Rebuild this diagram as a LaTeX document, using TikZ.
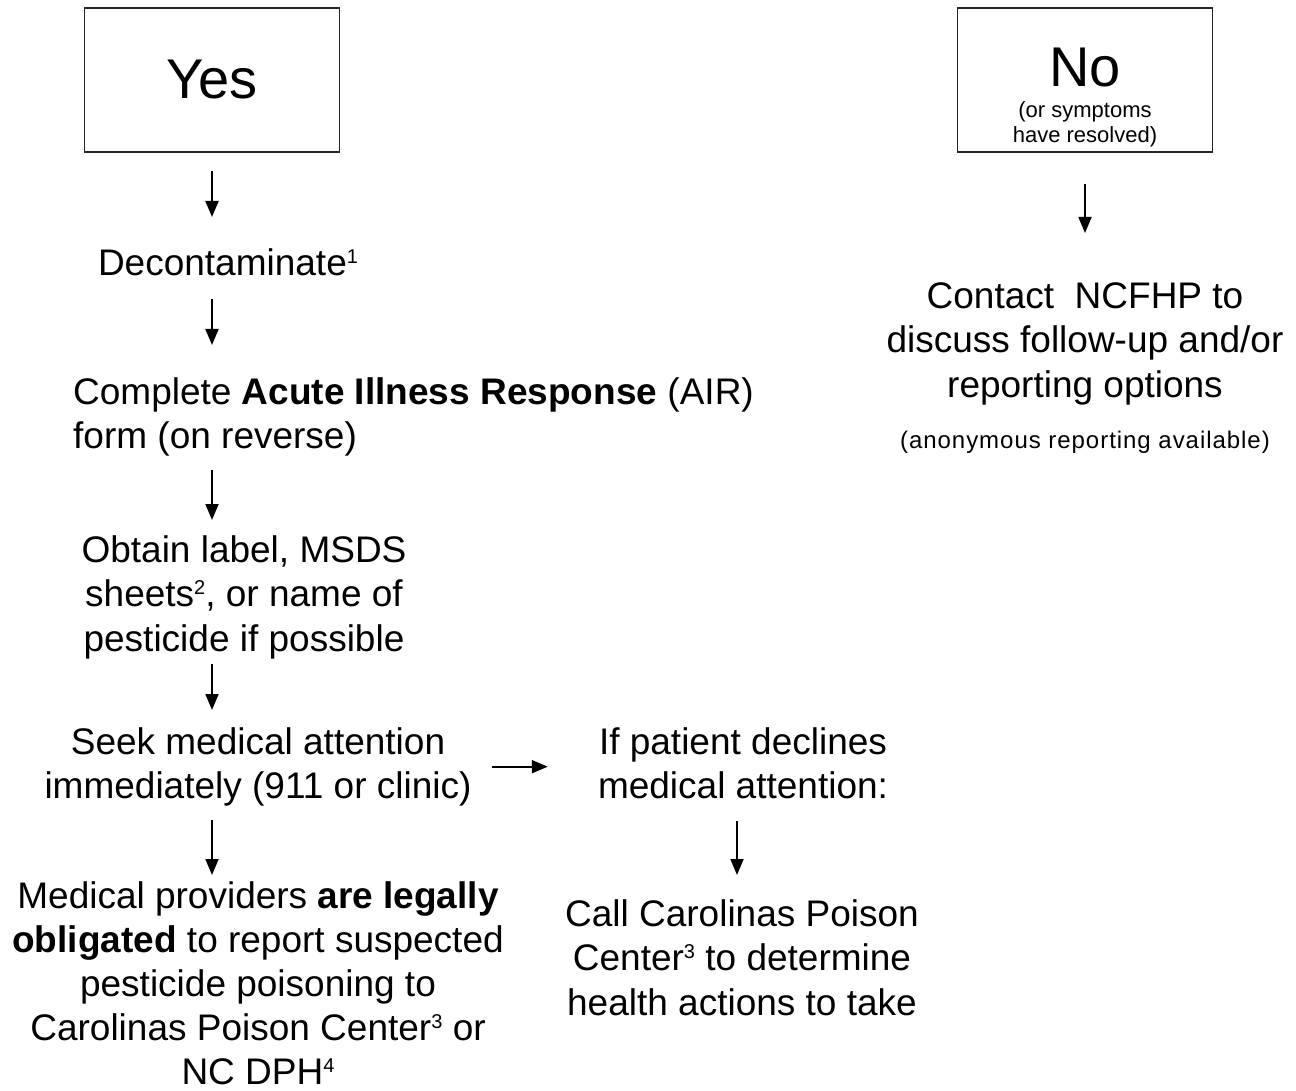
\documentclass[tikz,border=0pt]{standalone}
\usepackage{fontspec}
\setmainfont{Liberation Sans}
\newfontfamily\spacedfont[LetterSpace=4]{Liberation Sans}
\usetikzlibrary{arrows.meta}
\newcommand\mysup[1]{\raisebox{12pt}{\fontsize{20}{20}\selectfont #1}}
\begin{document}
\begin{tikzpicture}[x=1pt,y=-1pt,
  main/.style={inner sep=0pt, font=\fontsize{37}{44.5}\selectfont, align=center},
  small/.style={inner sep=0pt, font=\fontsize{22}{25}\selectfont, align=center},
  box/.style={draw=black!85, line width=1.8pt, minimum width=255pt, minimum height=144pt, inner sep=0pt},
  arr/.style={line width=1.8pt, -{Triangle[length=16pt,width=13pt]}}]
\useasboundingbox[fill=white] (0,0) rectangle (1296,1091);

% Yes branch
\node[box, font=\fontsize{56}{56}\selectfont] (yes) at (212,80) {Yes};
\node[main, anchor=base] (dec) at (228,276) {Decontaminate\mysup{1}};
\node[main, anchor=north west, align=left] (air) at (73,377)
  {Complete \textbf{Acute Illness Response} (AIR)\\form (on reverse)};
\node[main, anchor=north] (obt) at (244,535)
  {Obtain label, MSDS\\sheets\mysup{2}, or name of\\pesticide if possible};
\node[main, anchor=north] (seek) at (258,727)
  {Seek medical attention\\immediately (911 or clinic)};
\node[main, anchor=north, font=\fontsize{37}{44}\selectfont] (med) at (258,881)
  {Medical providers \textbf{are legally}\\\textbf{obligated} to report suspected\\pesticide poisoning to\\Carolinas Poison Center\mysup{3} or\\NC DPH\mysup{4}};
\node[main, anchor=north] (decl) at (743,727)
  {If patient declines\\medical attention:};
\node[main, anchor=north] (call) at (742,899)
  {Call Carolinas Poison\\Center\mysup{3} to determine\\health actions to take};

% No branch
\node[box] (no) at (1085,80) {};
\node[inner sep=0pt, font=\fontsize{56}{56}\selectfont, anchor=base] (notitle) at (1085,87) {No};
\node[small, anchor=north] (nonote) at (1085,101) {(or symptoms\\have resolved)};
\node[main, anchor=north] (contact) at (1085,282)
  {Contact~ NCFHP to\\discuss follow-up and/or\\reporting options};
\node[inner sep=0pt, font=\fontsize{24}{24}\spacedfont, anchor=base] (anon) at (1085,448)
  {(anonymous reporting available)};

% connectors
\draw[arr, shorten <=18pt, shorten >=32pt] (yes.south) -- (yes.south |- dec.north);
\draw[arr, shorten <=22pt, shorten >=32pt] (dec.south -| yes.south) -- (yes.south |- air.north);
\draw[arr, shorten <=14pt, shorten >=15pt] (air.south -| yes.south) -- (yes.south |- obt.north);
\draw[arr, shorten <=5pt, shorten >=17pt] (obt.south -| yes.south) -- (yes.south |- seek.north);
\draw[arr, shorten <=14pt, shorten >=6pt] (seek.south -| yes.south) -- (yes.south |- med.north);
\draw[arr, shorten <=20pt, shorten >=50pt] (seek.east) -- (seek.east -| decl.west);
\draw[arr, shorten <=22pt, shorten >=24pt] (decl.south -| 737,0) -- (call.north -| 737,0);
\draw[arr, shorten <=31pt, shorten >=49pt] (no.south) -- (no.south |- contact.north);
\end{tikzpicture}
\end{document}
